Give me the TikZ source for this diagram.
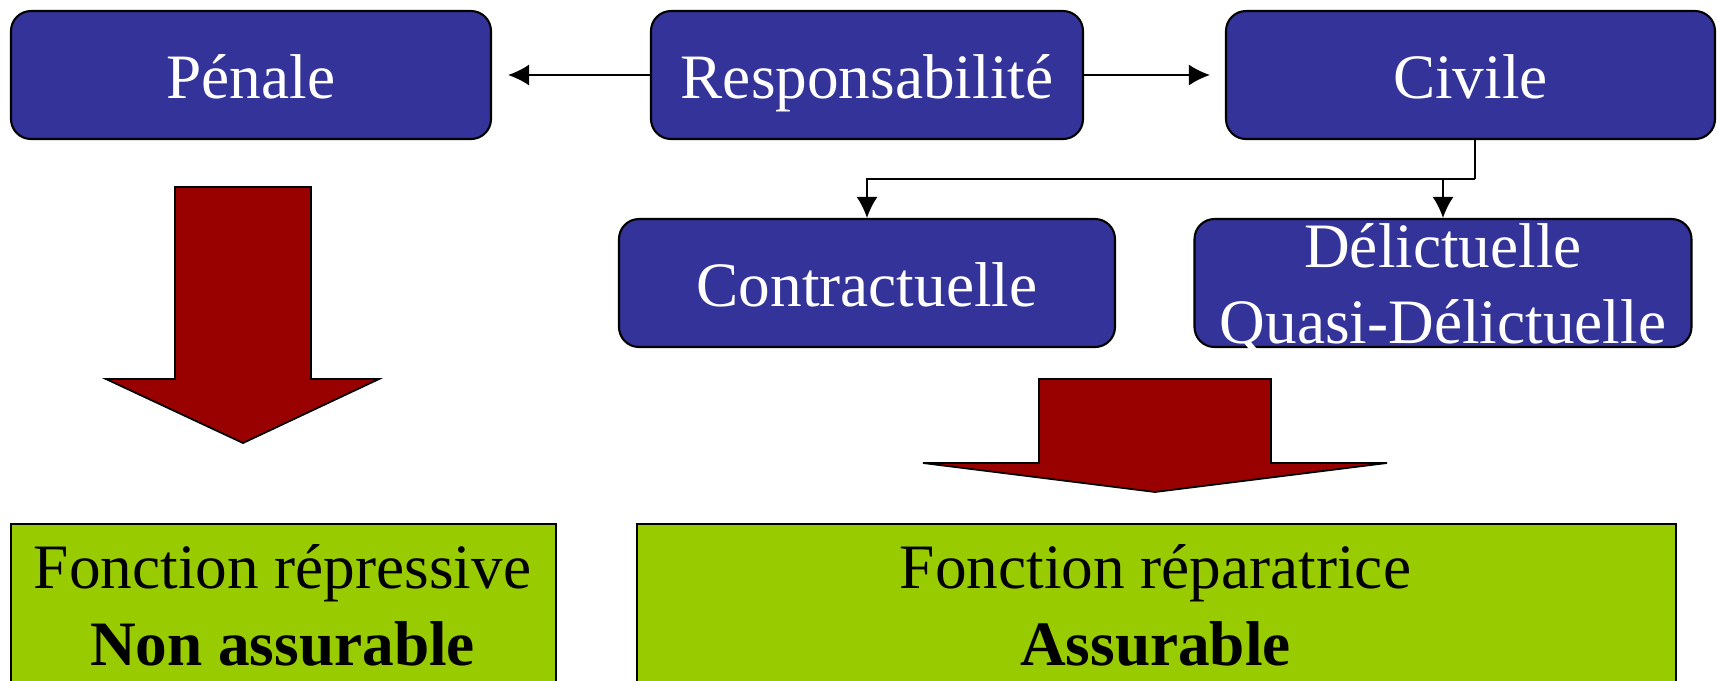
\documentclass[tikz,border=0pt]{standalone}
\usepackage{fontspec}
\setmainfont{Liberation Serif}
\usepackage{tikz}
\usetikzlibrary{arrows.meta}
\usetikzlibrary{positioning}
\definecolor{boxblue}{RGB}{51,51,153}
\definecolor{arrowred}{RGB}{153,0,0}
\definecolor{boxgreen}{RGB}{153,204,0}
\tikzset{>=latex}
\tikzstyle{resp} = [rectangle, draw=black, line width=0.6pt, fill=boxblue, rounded corners=0.2cm, text=white, minimum height=1.28cm, inner sep=0, text height=13.5pt, text depth=0pt, font=\fontsize{18}{21.6}\selectfont]
\tikzstyle{fonction} = [rectangle, draw=black, line width=0.6pt, fill=boxgreen, inner sep=0]
\tikzstyle{lien} = [-{Latex[length=0.21cm, width=0.21cm]}, line width=0.5pt]
\tikzstyle{fleche} = [draw=black, line width=0.5pt, fill=arrowred]
\tikzstyle{texte} = [draw=none, anchor=base, inner sep=0, font=\fontsize{18}{21.6}\selectfont]

\begin{document}
\begin{tikzpicture}
\useasboundingbox (0,0) rectangle (17.17,-6.80);
\clip (0,0) rectangle (17.17,-6.80);
% ligne du haut
\node [resp, minimum width=4.80cm] (P) at (2.51,-0.75) {Pénale};
\node [resp, minimum width=4.32cm] (R) at (8.67,-0.75) {Responsabilité};
\node [resp, minimum width=4.89cm] (C) at (14.705,-0.75) {Civile};
\draw [lien, shorten >=0.16cm] (R) to (P);
\draw [lien, shorten >=0.15cm] (R) to (C);
% civile
\node [resp, minimum width=4.96cm] (Co) at (8.67,-2.83) {Contractuelle};
\node [resp, minimum width=4.97cm] (D) at (14.43,-2.83) {};
\node [texte, text=white] (D1) at (14.43,-2.67) {Délictuelle};
\node [texte, text=white] (D2) at (14.43,-3.43) {Quasi-Délictuelle};
\coordinate (split) at (14.75,-1.79);
\draw [line width=0.5pt] (split |- C.south) -- (split);
\draw [lien] (split) -| (Co.north);
\draw [lien] (split -| D.north) -- (D.north);
% grosses fleches
\draw [fleche] (1.75,-1.87) -- (3.11,-1.87) -- (3.11,-3.79) -- (3.79,-3.79) -- (2.43,-4.43) -- (1.06,-3.79) -- (1.75,-3.79) -- cycle;
\draw [fleche] (10.39,-3.79) -- (12.71,-3.79) -- (12.71,-4.63) -- (13.87,-4.63) -- (11.55,-4.92) -- (9.23,-4.63) -- (10.39,-4.63) -- cycle;
% fonctions
\node [fonction, minimum width=5.45cm, minimum height=2cm, anchor=north west] (F1) at (0.10,-5.23) {};
\node [fonction, minimum width=10.39cm, minimum height=2cm, anchor=north west] (F2) at (6.36,-5.23) {};
\node [texte] (F1a) at (2.825,-5.88) {Fonction répressive};
\node [texte] (F1b) at (2.825,-6.65) {\bfseries Non assurable};
\node [texte] (F2a) at (11.555,-5.88) {Fonction réparatrice};
\node [texte] (F2b) at (11.555,-6.65) {\bfseries Assurable};
\end{tikzpicture}
\end{document}
